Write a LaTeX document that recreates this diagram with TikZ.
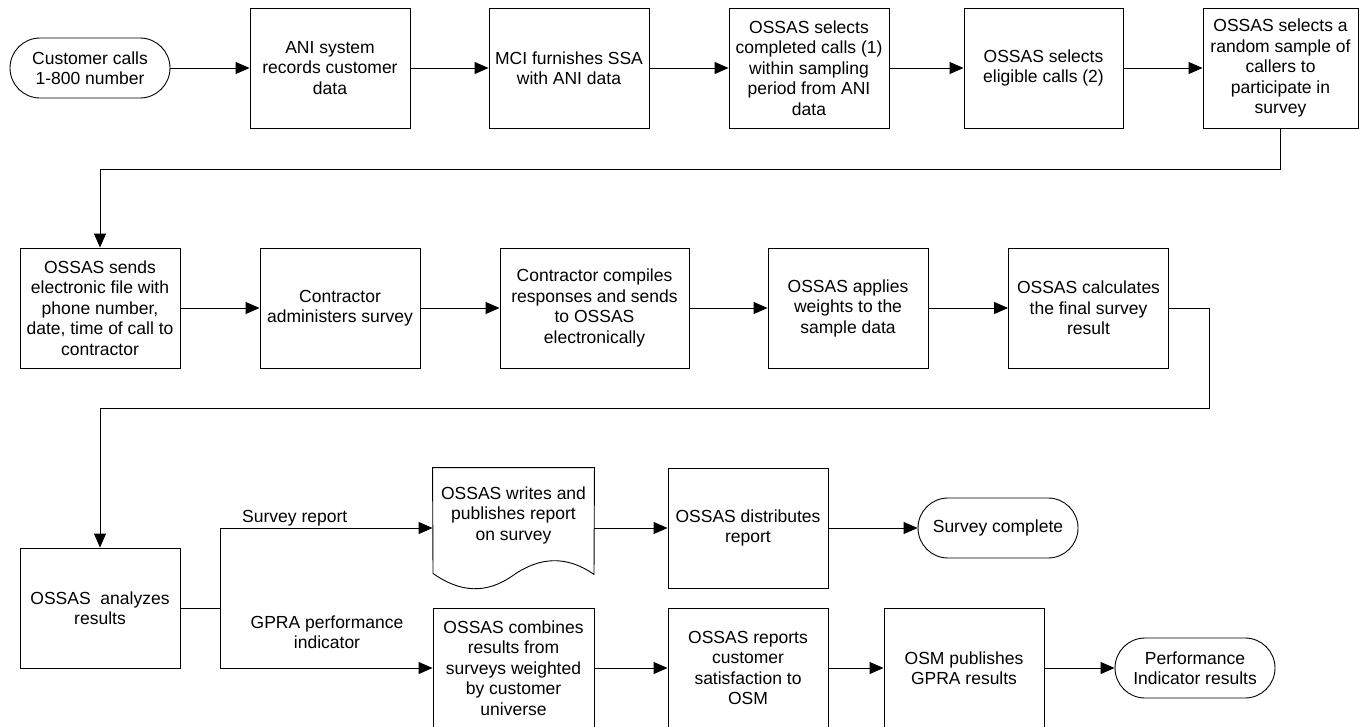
\documentclass[tikz,border=0pt]{standalone}
\usepackage{fontspec}
\setmainfont{Liberation Sans}
\usetikzlibrary{arrows.meta,calc}
\begin{document}
\begin{tikzpicture}[x=1pt,y=-1pt,
  font=\fontsize{17.5}{20.5}\selectfont,
  box/.style={draw, line width=0.9pt, minimum width=160pt, minimum height=120pt, inner sep=0pt, align=center},
  term/.style={draw, line width=0.9pt, rounded corners=30pt, minimum width=160pt, minimum height=60pt, inner sep=0pt, align=center},
  arr/.style={line width=0.9pt, -{Triangle[length=14pt,width=12pt]}},
  plain/.style={line width=0.9pt},
  lbl/.style={inner sep=0pt, align=center}]
\useasboundingbox (0,0) rectangle (1359,726);

% Row 1
\node[term] (st) at (90,68) {Customer calls\\1-800 number};
\node[box] (b1) at (330,68) {ANI system\\records customer\\data};
\node[box] (b2) at (569,68) {MCI furnishes SSA\\with ANI data};
\node[box] (b3) at (809,68) {OSSAS selects\\completed calls (1)\\within sampling\\period from ANI\\data};
\node[box, minimum width=159pt] (b4) at (1043.5,68) {OSSAS selects\\eligible calls (2)};
\node[box, minimum width=155pt] (b5) at (1280.5,68) {OSSAS selects a\\random sample of\\callers to\\participate in\\survey};

% Row 2
\node[box] (b6) at (100,308) {OSSAS sends\\electronic file with\\phone number,\\date, time of call to\\contractor};
\node[box] (b7) at (340,308) {Contractor\\administers survey};
\node[box, minimum width=189pt] (b8) at (594.5,308) {Contractor compiles\\responses and sends\\to OSSAS\\electronically};
\node[box] (b9) at (848,308) {OSSAS applies\\weights to the\\sample data};
\node[box] (b10) at (1088.5,308) {OSSAS calculates\\the final survey\\result};

% Row 3
\node[box] (an) at (100,608) {OSSAS\ \ analyzes\\results};
\node[box, draw=none, minimum width=161pt,
  label={[lbl, yshift=13pt]center:{OSSAS writes and\\publishes report\\on survey}}] (d1) at (513.5,528) {};
\draw[plain] (d1.north west) -- (d1.north east) -- ($(d1.south)+(80.5,-14)$)
  .. controls ($(d1.south)+(53.5,-33)$) and ($(d1.south)+(26.5,-32)$) .. ($(d1.south)+(-0.5,-13)$)
  .. controls ($(d1.south)+(-27.5,6)$) and ($(d1.south)+(-53.5,4)$) .. ($(d1.south)+(-80.5,-15)$)
  -- cycle;
\node[box] (ds) at (748,528) {OSSAS distributes\\report};
\node[term] (sc) at (998,528) {Survey complete};
\node[box, minimum width=161pt] (c1) at (513.5,668) {OSSAS combines\\results from\\surveys weighted\\by customer\\universe};
\node[box] (rp) at (748,668) {OSSAS reports\\customer\\satisfaction to\\OSM};
\node[box] (osm) at (964,668) {OSM publishes\\GPRA results};
\node[term] (pf) at (1195,668) {Performance\\Indicator results};

\node[lbl, anchor=base west] (l1) at (242,522.5) {Survey report};
\node[lbl] (l2) at (327,632) {GPRA performance\\indicator};

% connectors
\draw[arr] (st.east) -- (b1.west);
\draw[arr] (b1.east) -- (b2.west);
\draw[arr] (b2.east) -- (b3.west);
\draw[arr] (b3.east) -- (b4.west);
\draw[arr] (b4.east) -- (b5.west);
\draw[arr] (b5.south) -- ++(0,41) -| (b6.north);
\draw[arr] (b6.east) -- (b7.west);
\draw[arr] (b7.east) -- (b8.west);
\draw[arr] (b8.east) -- (b9.west);
\draw[arr] (b9.east) -- (b10.west);
\draw[arr] (b10.east) -- ++(40,0) -- ++(0,100) -| (an.north);
\coordinate (br) at (220,608);
\draw[plain] (an.east) -- (br);
\draw[arr] (br) |- (d1.west);
\draw[arr] (br) |- (c1.west);
\draw[arr] (d1.east) -- (ds.west);
\draw[arr] (ds.east) -- (sc.west);
\draw[arr] (c1.east) -- (rp.west);
\draw[arr] (rp.east) -- (osm.west);
\draw[arr] (osm.east) -- (pf.west);
\end{tikzpicture}
\end{document}
